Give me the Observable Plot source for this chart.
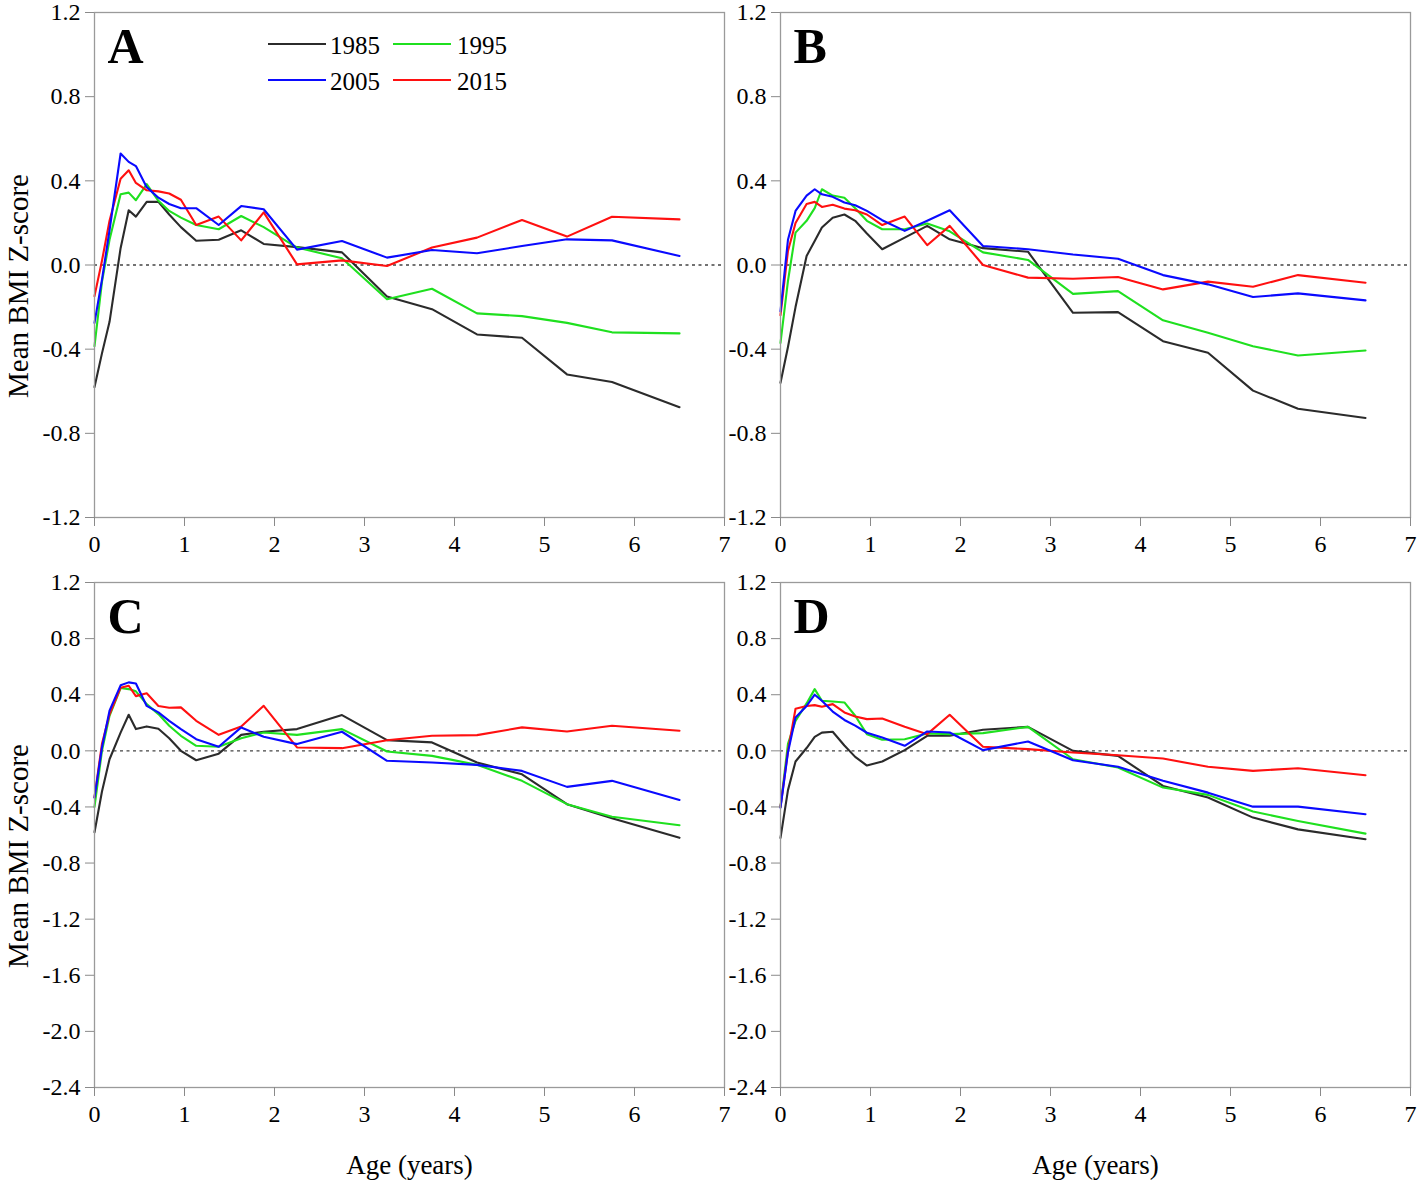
<!DOCTYPE html>
<html>
<head>
<meta charset="utf-8">
<script src="https://cdn.jsdelivr.net/npm/d3@7"></script>
<script src="https://cdn.jsdelivr.net/npm/@observablehq/plot@0.6"></script>
<style>
  html, body { margin: 0; padding: 0; background: #fff; }
  #wrap { position: relative; width: 1418px; height: 1185px; overflow: hidden; background: #fff;
          font-family: "Liberation Serif", "Times New Roman", serif; }
  .panel { position: absolute; }
  .panel text, .panel tspan { font-family: "Liberation Serif", "Times New Roman", serif !important; font-variant: normal !important; }
  .lg-line { position: absolute; height: 2px; }
  .lg-text { position: absolute; font-size: 25px; line-height: 25px; color: #000; white-space: nowrap; }
</style>
</head>
<body>
<div id="wrap"></div>
<script>
// ---- Data ----
const ages = [0, 0.083, 0.167, 0.29, 0.38, 0.46, 0.58, 0.71, 0.83, 0.96, 1.13, 1.38, 1.63, 1.88, 2.25, 2.75, 3.25, 3.75, 4.25, 4.75, 5.25, 5.75, 6.5];
const years = ["1985", "1995", "2005", "2015"];
const yearColors = ["#2b2b2b", "#1fe01f", "#0a0aff", "#ff1010"];
const panelLetters = ["A", "B", "C", "D"];

// Panel A
const A_1985 = [-0.58, -0.42, -0.27, 0.08, 0.26, 0.23, 0.30, 0.30, 0.24, 0.18, 0.115, 0.12, 0.165, 0.10, 0.085, 0.06, -0.15, -0.21, -0.33, -0.346, -0.52, -0.556, -0.676];
const A_1995 = [-0.386, -0.08, 0.12, 0.336, 0.344, 0.308, 0.384, 0.305, 0.257, 0.225, 0.19, 0.17, 0.233, 0.18, 0.083, 0.032, -0.163, -0.113, -0.23, -0.243, -0.275, -0.32, -0.325];
const A_2005 = [-0.275, -0.07, 0.165, 0.53, 0.49, 0.47, 0.37, 0.32, 0.29, 0.27, 0.27, 0.19, 0.28, 0.265, 0.073, 0.114, 0.035, 0.071, 0.056, 0.09, 0.122, 0.117, 0.043];
const A_2015 = [-0.148, 0.02, 0.21, 0.41, 0.45, 0.39, 0.355, 0.35, 0.34, 0.31, 0.19, 0.23, 0.117, 0.25, 0.003, 0.022, -0.005, 0.083, 0.13, 0.214, 0.135, 0.229, 0.217];
// Panel B
const B_1985 = [-0.56, -0.39, -0.2, 0.043, 0.114, 0.178, 0.225, 0.24, 0.21, 0.15, 0.075, 0.13, 0.186, 0.122, 0.08, 0.063, -0.227, -0.224, -0.362, -0.417, -0.597, -0.683, -0.727];
const B_1995 = [-0.37, -0.076, 0.154, 0.21, 0.27, 0.36, 0.33, 0.32, 0.27, 0.21, 0.17, 0.17, 0.197, 0.16, 0.06, 0.024, -0.137, -0.124, -0.263, -0.322, -0.386, -0.43, -0.406];
const B_2005 = [-0.22, 0.12, 0.257, 0.33, 0.36, 0.336, 0.324, 0.297, 0.284, 0.257, 0.213, 0.162, 0.21, 0.26, 0.09, 0.075, 0.05, 0.03, -0.048, -0.092, -0.152, -0.135, -0.168];
const B_2015 = [-0.238, 0.067, 0.2, 0.29, 0.30, 0.276, 0.286, 0.268, 0.26, 0.24, 0.19, 0.23, 0.094, 0.186, 0.0, -0.06, -0.065, -0.057, -0.116, -0.079, -0.103, -0.048, -0.084];
// Panel C
const C_1985 = [-0.58, -0.29, -0.06, 0.13, 0.257, 0.155, 0.174, 0.157, 0.09, 0.0, -0.067, -0.02, 0.114, 0.136, 0.155, 0.255, 0.076, 0.06, -0.083, -0.167, -0.38, -0.48, -0.62];
const C_1995 = [-0.40, 0.0, 0.25, 0.448, 0.44, 0.424, 0.333, 0.262, 0.179, 0.107, 0.036, 0.029, 0.09, 0.131, 0.114, 0.155, -0.005, -0.036, -0.1, -0.214, -0.38, -0.47, -0.53];
const C_2005 = [-0.333, 0.024, 0.286, 0.467, 0.488, 0.48, 0.32, 0.274, 0.214, 0.155, 0.083, 0.029, 0.167, 0.1, 0.048, 0.136, -0.071, -0.083, -0.1, -0.143, -0.257, -0.214, -0.35];
const C_2015 = [-0.33, 0.05, 0.26, 0.45, 0.464, 0.39, 0.41, 0.32, 0.307, 0.31, 0.214, 0.114, 0.174, 0.321, 0.024, 0.019, 0.076, 0.107, 0.112, 0.167, 0.138, 0.179, 0.143];
// Panel D
const D_1985 = [-0.62, -0.28, -0.076, 0.02, 0.10, 0.13, 0.136, 0.038, -0.043, -0.105, -0.076, 0.005, 0.107, 0.107, 0.15, 0.171, 0.0, -0.036, -0.25, -0.333, -0.476, -0.56, -0.63];
const D_1995 = [-0.40, 0.05, 0.214, 0.338, 0.44, 0.357, 0.352, 0.345, 0.25, 0.119, 0.079, 0.083, 0.124, 0.119, 0.126, 0.171, -0.06, -0.119, -0.262, -0.314, -0.433, -0.5, -0.59];
const D_2005 = [-0.405, -0.01, 0.238, 0.32, 0.40, 0.357, 0.28, 0.22, 0.18, 0.129, 0.095, 0.036, 0.138, 0.131, 0.005, 0.067, -0.067, -0.114, -0.214, -0.298, -0.398, -0.398, -0.452];
const D_2015 = [-0.40, 0.0, 0.30, 0.32, 0.326, 0.314, 0.333, 0.274, 0.245, 0.226, 0.231, 0.171, 0.119, 0.257, 0.029, 0.012, -0.012, -0.031, -0.055, -0.114, -0.143, -0.124, -0.174];

// Tick labels
const xTicks = [0, 1, 2, 3, 4, 5, 6, 7];
const yTicksTop = [-1.2, -0.8, -0.4, 0, 0.4, 0.8, 1.2];
const yTicksBottom = [-2.4, -2.0, -1.6, -1.2, -0.8, -0.4, 0, 0.4, 0.8, 1.2];
const yLabel = "Mean BMI Z-score";
const xLabel = "Age (years)";

// ---- Build ----
const wrap = document.getElementById("wrap");
const FONT = "'Liberation Serif', 'Times New Roman', serif";
// draw order: 1985, 1995, 2015, 2005 (blue on top)
const drawOrder = [0, 1, 3, 2];

function makePanel(letter, seriesList, yDomain, yTicks, opts) {
  const lines = drawOrder.map(k => {
    const rows = ages.map((a, i) => ({age: a, z: seriesList[k][i], year: years[k]}));
    return Plot.line(rows, {x: "age", y: "z", stroke: yearColors[k], strokeWidth: 2.1, strokeLinejoin: "round"});
  });
  const marks = [
    Plot.ruleY([0], {stroke: "#444", strokeWidth: 1.3, strokeDasharray: "3,3.5"}),
    ...lines,
    Plot.frame({stroke: "#9a9a9a", strokeWidth: 1.3}),
    Plot.axisY({ticks: yTicks, tickSize: 9, tickPadding: 5, stroke: "#8a8a8a", tickFormat: d => d.toFixed(1), label: null, fontSize: 24, fontFamily: FONT, fill: "#000"}),
    Plot.axisX({ticks: xTicks, tickSize: 9, tickPadding: 8, stroke: "#8a8a8a", tickFormat: d => String(d), label: null, fontSize: 24, fontFamily: FONT, fill: "#000"}),
    Plot.text([letter], {frameAnchor: "top-left", dx: 13, dy: 15, fontSize: 50, fontWeight: "bold", fontFamily: FONT, lineAnchor: "top", textAnchor: "start", fill: "#000"})
  ];
  if (opts.yTitle) {
    marks.push(Plot.text([yLabel], {frameAnchor: "left", dx: -76, dy: opts.yTitleDy, rotate: -90, fontSize: 29, fontFamily: FONT, textAnchor: "middle", lineAnchor: "middle", fill: "#000"}));
  }
  if (opts.xTitle) {
    marks.push(Plot.text([xLabel], {frameAnchor: "bottom", dy: 78, fontSize: 27, fontFamily: FONT, textAnchor: "middle", lineAnchor: "middle", fill: "#000"}));
  }
  const chart = Plot.plot({
    width: 734,
    height: opts.height,
    marginTop: 12,
    marginLeft: 94,
    marginRight: 10,
    marginBottom: opts.height - 12 - 505,
    style: {fontFamily: FONT, fontSize: "24px", color: "#000", background: "transparent", overflow: "visible"},
    x: {domain: [0, 7]},
    y: {domain: yDomain},
    marks
  });
  chart.classList.add("panel");
  chart.style.left = opts.left + "px";
  chart.style.top = opts.top + "px";
  chart.style.maxWidth = "none";
  wrap.appendChild(chart);
}

makePanel(panelLetters[0], [A_1985, A_1995, A_2005, A_2015], [-1.2, 1.2], yTicksTop, {left: 0, top: 0, height: 565, yTitle: true, yTitleDy: 21, xTitle: false});
makePanel(panelLetters[1], [B_1985, B_1995, B_2005, B_2015], [-1.2, 1.2], yTicksTop, {left: 686, top: 0, height: 565, yTitle: false, xTitle: false});
makePanel(panelLetters[2], [C_1985, C_1995, C_2005, C_2015], [-2.4, 1.2], yTicksBottom, {left: 0, top: 570, height: 615, yTitle: true, yTitleDy: 21, xTitle: true});
makePanel(panelLetters[3], [D_1985, D_1995, D_2005, D_2015], [-2.4, 1.2], yTicksBottom, {left: 686, top: 570, height: 615, yTitle: false, xTitle: true});

// ---- Legend (inside panel A) ----
const legendItems = [
  {k: 0, lineX: 268, textX: 330, y: 44},
  {k: 1, lineX: 393, textX: 457, y: 44},
  {k: 2, lineX: 268, textX: 330, y: 80},
  {k: 3, lineX: 393, textX: 457, y: 80}
];
legendItems.forEach(it => {
  const ln = document.createElement("div");
  ln.className = "lg-line";
  ln.style.left = it.lineX + "px";
  ln.style.top = (it.y - 1) + "px";
  ln.style.width = "58px";
  ln.style.background = yearColors[it.k];
  wrap.appendChild(ln);
  const tx = document.createElement("div");
  tx.className = "lg-text";
  tx.style.left = it.textX + "px";
  tx.style.top = (it.y - 11) + "px";
  tx.textContent = years[it.k];
  wrap.appendChild(tx);
});
</script>
</body>
</html>
